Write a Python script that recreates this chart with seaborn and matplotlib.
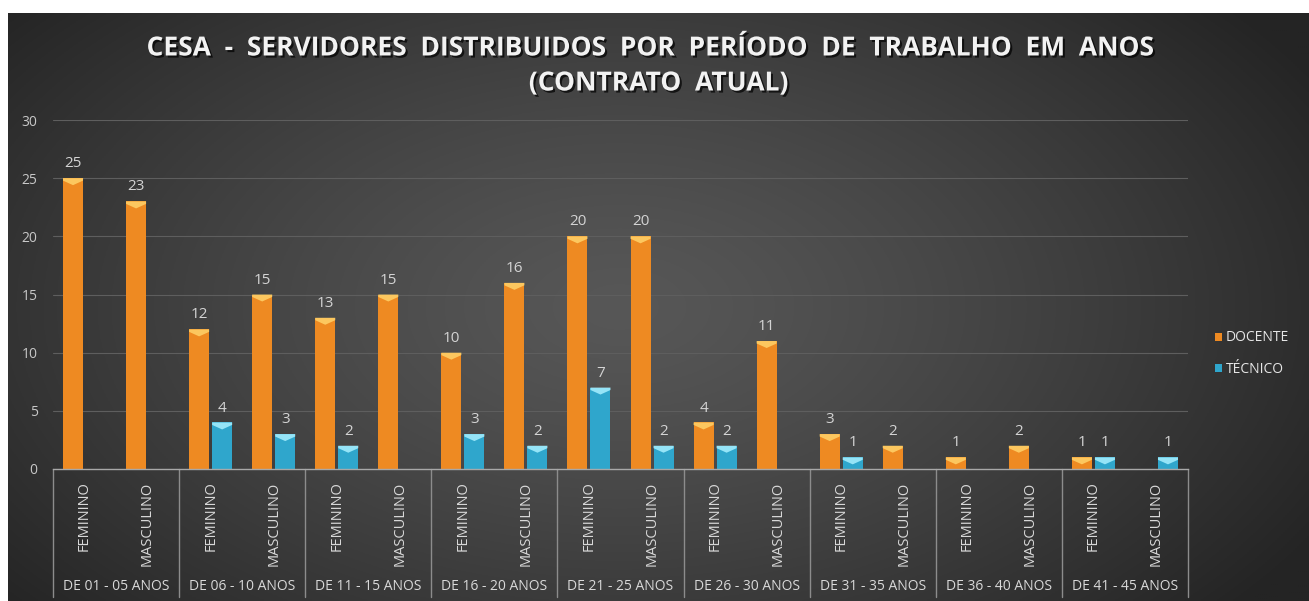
import numpy as np
import pandas as pd
import matplotlib
matplotlib.use("Agg")
import matplotlib.pyplot as plt
import matplotlib.patheffects as pe
from matplotlib.patches import Polygon
import seaborn as sns

periodos = ["DE 01 - 05 ANOS", "DE 06 - 10 ANOS", "DE 11 - 15 ANOS", "DE 16 - 20 ANOS",
            "DE 21 - 25 ANOS", "DE 26 - 30 ANOS", "DE 31 - 35 ANOS", "DE 36 - 40 ANOS",
            "DE 41 - 45 ANOS"]
sexos = ["FEMININO", "MASCULINO"]
docente = [25, 23, 12, 15, 13, 15, 10, 16, 20, 20, 4, 11, 3, 2, 1, 2, 1, 0]
tecnico = [0, 0, 4, 3, 2, 0, 3, 2, 7, 2, 2, 0, 1, 0, 0, 0, 1, 1]
tipos = ["DOCENTE", "TÉCNICO"]

cats = [p + "|" + s for p in periodos for s in sexos]
df = pd.DataFrame({
    "cat": cats * 2,
    "valor": docente + tecnico,
    "tipo": [tipos[0]] * len(cats) + [tipos[1]] * len(cats),
})

sns.set_style("dark")
plt.rcParams["font.family"] = ["Open Sans", "DejaVu Sans"]

orange = "#ee8a22"
cyan = "#2fa6cc"
tops = ["#ffd36a", "#a8f0ff"]

fig = plt.figure(figsize=(13.09, 6.01), dpi=100, facecolor="white")

# gradient background
bg = fig.add_axes([8 / 1309, 0, 1 - 8 / 1309, 1 - 13 / 601])
yy, xx = np.mgrid[0:1:300j, 0:1:650j]
d = np.sqrt(((xx - 0.47) / 0.62) ** 2 + ((yy - 0.5) / 0.8) ** 2)
d = np.clip(d, 0, 1) ** 1.3
light = np.array([0x57, 0x57, 0x57]) / 255
dark = np.array([0x24, 0x24, 0x24]) / 255
img = light[None, None, :] * (1 - d[..., None]) + dark[None, None, :] * d[..., None]
bg.imshow(img, aspect="auto", extent=[0, 1, 0, 1])
bg.axis("off")

ax = fig.add_axes([53 / 1309, 1 - 469 / 601, (1188 - 53) / 1309, (469 - 120) / 601])
ax.set_facecolor("none")

sns.barplot(data=df, x="cat", y="valor", hue="tipo", order=cats, hue_order=tipos,
            palette=[orange, cyan], width=0.73, gap=0.13, saturation=1,
            errorbar=None, linewidth=0, ax=ax)

ax.set_xlim(-0.5, len(cats) - 0.5)
ax.set_ylim(0, 30)
ax.set_yticks(range(0, 31, 5))
ax.yaxis.grid(True, color="#5e5e5e", lw=0.8)
ax.xaxis.grid(False)
for s in ["top", "left", "right"]:
    ax.spines[s].set_visible(False)
ax.spines["bottom"].set_color("#a8a8a8")
ax.spines["bottom"].set_linewidth(1)
ax.tick_params(axis="y", length=0, pad=11, labelsize=10, labelcolor="#c8c8c8")
ax.set_xticks(range(len(cats)))
ax.set_xticklabels(sexos * len(periodos), rotation=90, va="top")
ax.tick_params(axis="x", length=0, pad=9, labelsize=10.5, labelcolor="#d9d9d9")
ax.set_xlabel("")
ax.set_ylabel("")

# chevron tops + value labels
for i, cont in enumerate(ax.containers):
    for p in cont.patches:
        h = p.get_height()
        if h <= 0:
            continue
        x0, w = p.get_x(), p.get_width()
        dd = 0.6
        ax.add_patch(Polygon([(x0, h), (x0 + w, h), (x0 + w, h - dd * 0.35),
                              (x0 + w / 2, h - dd), (x0, h - dd * 0.35)],
                             closed=True, color=tops[i], alpha=0.85, lw=0))
    labs = [str(int(v)) if v > 0 else "" for v in cont.datavalues]
    ax.bar_label(cont, labels=labs, padding=5, fontsize=11, color="#d4d4d4")

# group labels and separators
trans = ax.get_xaxis_transform()
for g, per in enumerate(periodos):
    ax.text(2 * g + 0.5, -0.338, per, transform=trans, ha="center", va="center",
            fontsize=10, color="#d9d9d9")
for b in np.arange(-0.5, len(cats), 2):
    ax.plot([b, b], [0, -0.367], transform=trans, clip_on=False, color="#8c8c8c", lw=1)

sns.move_legend(ax, loc="center left", bbox_to_anchor=(1.013, 0.33), title=None,
                frameon=False, fontsize=10, labelcolor="#e6e6e6",
                handlelength=0.5, handleheight=0.5, handletextpad=0.25, labelspacing=1.2)

shadow = [pe.withSimplePatchShadow(offset=(1.5, -1.5), shadow_rgbFace="black", alpha=0.7)]
fig.text(0.496, 1 - 48 / 601, "CESA  -  SERVIDORES  DISTRIBUIDOS  POR  PERÍODO  DE  TRABALHO  EM  ANOS",
         ha="center", va="center", fontsize=19, fontweight="bold", color="#f2f2f2",
         path_effects=shadow)
fig.text(0.503, 1 - 83 / 601, "(CONTRATO  ATUAL)", ha="center", va="center",
         fontsize=19, fontweight="bold", color="#f2f2f2", path_effects=shadow)

fig.savefig("out.png", dpi=100, facecolor="white")
